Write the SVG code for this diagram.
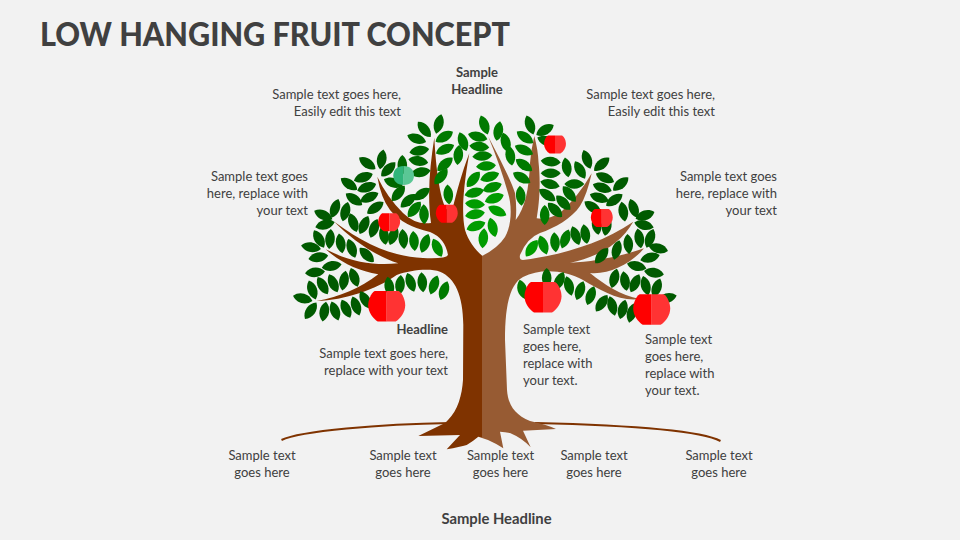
<svg xmlns="http://www.w3.org/2000/svg" width="960" height="540" viewBox="0 0 960 540">
<style>
text{font-family:"Lato","Liberation Sans",sans-serif;font-size:13px;fill:#404040}
.b{font-weight:700}
.r{text-anchor:end}
.m{text-anchor:middle}
.t{font-size:33px;font-weight:900}
.s{font-size:14.800px}
.a{fill:#005a00}.c{fill:#006600}.e{fill:#007a00}.g{fill:#008c00}.i{fill:#009c00}
.p{fill:#ff0000}.q{fill:#ff3333}
</style>
<defs>
<path id="l" d="M-10,0C-5,-6.400 5,-6.400 10,0C5,6.400 -5,6.400 -10,0Z"/>
<g id="ap"><path class="p" d="M0,-15.3H-12C-16,-13 -18.5,-6 -18.5,-1C-18.5,6 -14,12 -9,15.3H0Z"/><path class="q" d="M0,-15.3H12C16,-13 18.5,-6 18.5,-1C18.5,6 14,12 9,15.3H0Z"/></g>
</defs>
<rect width="960" height="540" fill="#f2f2f2"/>
<text class="t" x="40" y="46" textLength="470" lengthAdjust="spacingAndGlyphs">LOW HANGING FRUIT CONCEPT</text>
<g id="ground" fill="none" stroke="#7f3300" stroke-width="2">
<path d="M281.5,440C300,431 380,424 450,423"/>
<path d="M535,423C620,425 700,430 720.5,441"/>
</g>
<g id="trunk">
<path fill="#7f3300" d="M482.5,256C475,250 468,240 465,230C462,215 462,195 469.3,153.3C462,172 456,195 453,207Q450,210 446,209C440,197 436,170 434.3,137.7C430,165 427,195 431,223Q415,225 403,213Q387,197 377.3,176.7Q381,198 390,210Q403,226 430,232Q445,238 448,255Q446,259 423,258C395,257 365,245 334.3,221.7C350,238 375,256 398.3,263.3C375,266 350,262 325.7,249.3C340,262 358,271 378.3,274.3C360,288 340,297 316.7,301C345,300 375,290 396.7,275C410,270 430,268 440,271.7C455,278 463,295 463.3,325L463,380C462,395 458,410 448,420L445,423L418.3,436L460,435L446.7,449.3Q460,447 466.7,445Q472,442 478.3,436.7L482.5,438Z"/>
<path fill="#975b33" d="M482,256Q498,248 505,237C512,225 512,205 508,193C503,175 496,155 488.3,136.7C498,155 510,178 515,193Q517,208 515.7,220C525,208 529,190 530,163Q531,150 534.3,136Q538,150 538.5,162C541,185 539,205 536.7,218.3Q548,220 560,213Q578,197 591.7,173.3Q587,195 580,206C572,218 555,228 540,233Q527,238 520,255Q519,260 523,260C555,256 600,245 633.3,221.7C620,245 595,258 570,262.7C595,262 625,255 644,248.3C633,262 610,275 590,273C605,285 620,295 640,299C620,302 600,290 583,280C565,270 540,268 523,277C510,284 505,305 505,340L507,390C508,405 515,415 530,421Q545,424 556,429L523,430.7L530.7,447.3Q522,438 510,433Q505,432 500,431.7L503.3,448.3Q495,443 488,440L482,438Z"/>
</g>
<g id="leaves">
<use href="#l" class="c" transform="translate(438.7,124) rotate(-75)"/>
<use href="#l" class="c" transform="translate(424.3,129.3) rotate(50)"/>
<use href="#l" class="e" transform="translate(444.3,136.7) rotate(-30)"/>
<use href="#l" class="c" transform="translate(416.7,138.7) rotate(20)"/>
<use href="#l" class="c" transform="translate(419.3,150.7) rotate(-10)"/>
<use href="#l" class="e" transform="translate(445,149.3) rotate(-25)"/>
<use href="#l" class="c" transform="translate(418.3,161) rotate(10)"/>
<use href="#l" class="e" transform="translate(445,164.3) rotate(-40)"/>
<use href="#l" class="c" transform="translate(420.7,172.3) rotate(-10)"/>
<use href="#l" class="e" transform="translate(441,176.7) rotate(-50)"/>
<use href="#l" class="e" transform="translate(458.3,155) rotate(-85)"/>
<use href="#l" class="e" transform="translate(463,141.7) rotate(70)"/>
<use href="#l" class="c" transform="translate(421.7,194) rotate(-35)"/>
<use href="#l" class="c" transform="translate(408.3,200.7) rotate(-40)"/>
<use href="#l" class="e" transform="translate(414.3,209.3) rotate(-50)"/>
<use href="#l" class="e" transform="translate(424,214.3) rotate(88)"/>
<use href="#l" class="c" transform="translate(398.3,193.3) rotate(-50)"/>
<use href="#l" class="c" transform="translate(393.3,182.7) rotate(20)"/>
<use href="#l" class="c" transform="translate(402.3,165) rotate(-90)"/>
<use href="#l" class="a" transform="translate(388.3,169.3) rotate(-45)"/>
<use href="#l" class="a" transform="translate(381.7,159.3) rotate(-80)"/>
<use href="#l" class="a" transform="translate(367.3,163.3) rotate(35)"/>
<use href="#l" class="a" transform="translate(363.3,177.3) rotate(-20)"/>
<use href="#l" class="a" transform="translate(349,184) rotate(35)"/>
<use href="#l" class="a" transform="translate(366.7,187.3) rotate(-20)"/>
<use href="#l" class="a" transform="translate(354,199.3) rotate(35)"/>
<use href="#l" class="a" transform="translate(369.3,197.3) rotate(-25)"/>
<use href="#l" class="a" transform="translate(375.3,207.7) rotate(-35)"/>
<use href="#l" class="a" transform="translate(345.3,211.7) rotate(-75)"/>
<use href="#l" class="a" transform="translate(335,208.3) rotate(-70)"/>
<use href="#l" class="a" transform="translate(323.3,215) rotate(25)"/>
<use href="#l" class="a" transform="translate(325,224.7) rotate(-15)"/>
<use href="#l" class="a" transform="translate(353.3,222.7) rotate(70)"/>
<use href="#l" class="a" transform="translate(319,239) rotate(60)"/>
<use href="#l" class="a" transform="translate(330,239) rotate(-85)"/>
<use href="#l" class="a" transform="translate(340.7,243.3) rotate(80)"/>
<use href="#l" class="a" transform="translate(351.7,248.3) rotate(70)"/>
<use href="#l" class="a" transform="translate(366.7,255) rotate(45)"/>
<use href="#l" class="a" transform="translate(311,247.3) rotate(10)"/>
<use href="#l" class="a" transform="translate(318.3,257.3) rotate(-10)"/>
<use href="#l" class="a" transform="translate(331.7,266) rotate(-10)"/>
<use href="#l" class="a" transform="translate(315,272.3) rotate(-5)"/>
<use href="#l" class="a" transform="translate(312.3,290) rotate(70)"/>
<use href="#l" class="a" transform="translate(322.7,285.7) rotate(60)"/>
<use href="#l" class="a" transform="translate(333.3,283.3) rotate(65)"/>
<use href="#l" class="a" transform="translate(344,280.7) rotate(-80)"/>
<use href="#l" class="a" transform="translate(354.3,277.3) rotate(70)"/>
<use href="#l" class="a" transform="translate(302.7,298.3) rotate(15)"/>
<use href="#l" class="a" transform="translate(310.7,310.7) rotate(-55)"/>
<use href="#l" class="a" transform="translate(324.3,311.7) rotate(-80)"/>
<use href="#l" class="a" transform="translate(335,311) rotate(70)"/>
<use href="#l" class="a" transform="translate(346,308.7) rotate(65)"/>
<use href="#l" class="a" transform="translate(356,306) rotate(70)"/>
<use href="#l" class="a" transform="translate(365.3,300) rotate(60)"/>
<use href="#l" class="c" transform="translate(389.3,286.7) rotate(80)"/>
<use href="#l" class="c" transform="translate(400,285) rotate(-85)"/>
<use href="#l" class="c" transform="translate(410.7,282.3) rotate(70)"/>
<use href="#l" class="c" transform="translate(422.3,282.3) rotate(85)"/>
<use href="#l" class="e" transform="translate(434,285) rotate(-70)"/>
<use href="#l" class="e" transform="translate(444,290.7) rotate(-70)"/>
<use href="#l" class="a" transform="translate(364,225) rotate(-65)"/>
<use href="#l" class="a" transform="translate(374,228.3) rotate(-70)"/>
<use href="#l" class="c" transform="translate(384,235) rotate(80)"/>
<use href="#l" class="c" transform="translate(393.3,235.7) rotate(-70)"/>
<use href="#l" class="c" transform="translate(403.3,239) rotate(85)"/>
<use href="#l" class="e" transform="translate(414,241) rotate(85)"/>
<use href="#l" class="e" transform="translate(425,243.3) rotate(-70)"/>
<use href="#l" class="g" transform="translate(437.3,247.7) rotate(65)"/>
<use href="#l" class="e" transform="translate(448.3,194.5) rotate(85)"/>
<use href="#l" class="e" transform="translate(477.7,136.7) rotate(15)"/>
<use href="#l" class="e" transform="translate(479.3,146.7) rotate(5)"/>
<use href="#l" class="e" transform="translate(482.3,156) rotate(-5)"/>
<use href="#l" class="g" transform="translate(486,166) rotate(-5)"/>
<use href="#l" class="g" transform="translate(473.3,179.3) rotate(-50)"/>
<use href="#l" class="g" transform="translate(489.7,176.7) rotate(-20)"/>
<use href="#l" class="g" transform="translate(474.3,192.7) rotate(-15)"/>
<use href="#l" class="g" transform="translate(492.3,187.3) rotate(-20)"/>
<use href="#l" class="i" transform="translate(475,204) rotate(5)"/>
<use href="#l" class="i" transform="translate(494.3,198.3) rotate(-20)"/>
<use href="#l" class="i" transform="translate(475,214.3) rotate(-10)"/>
<use href="#l" class="i" transform="translate(497.3,211) rotate(25)"/>
<use href="#l" class="i" transform="translate(476,226) rotate(-20)"/>
<use href="#l" class="i" transform="translate(492.7,227.3) rotate(75)"/>
<use href="#l" class="i" transform="translate(483.3,238.3) rotate(-85)"/>
<use href="#l" class="e" transform="translate(484.3,125) rotate(70)"/>
<use href="#l" class="e" transform="translate(498.3,131) rotate(-80)"/>
<use href="#l" class="e" transform="translate(505.7,142.3) rotate(75)"/>
<use href="#l" class="e" transform="translate(510.3,155.7) rotate(80)"/>
<use href="#l" class="c" transform="translate(530,125) rotate(70)"/>
<use href="#l" class="c" transform="translate(545,130) rotate(-30)"/>
<use href="#l" class="e" transform="translate(525,137.3) rotate(35)"/>
<use href="#l" class="e" transform="translate(524,150) rotate(25)"/>
<use href="#l" class="e" transform="translate(524,165) rotate(35)"/>
<use href="#l" class="e" transform="translate(521.7,177.7) rotate(30)"/>
<use href="#l" class="e" transform="translate(520.7,195.7) rotate(85)"/>
<use href="#l" class="c" transform="translate(546.7,141) rotate(20)"/>
<use href="#l" class="c" transform="translate(550.7,161.7) rotate(5)"/>
<use href="#l" class="c" transform="translate(550.7,173.3) rotate(0)"/>
<use href="#l" class="c" transform="translate(550,184) rotate(15)"/>
<use href="#l" class="c" transform="translate(547.3,195) rotate(35)"/>
<use href="#l" class="c" transform="translate(563.3,202.7) rotate(45)"/>
<use href="#l" class="c" transform="translate(555,210) rotate(45)"/>
<use href="#l" class="e" transform="translate(544.7,215) rotate(90)"/>
<use href="#l" class="c" transform="translate(566.7,167.3) rotate(80)"/>
<use href="#l" class="c" transform="translate(580,170) rotate(60)"/>
<use href="#l" class="a" transform="translate(587,159.3) rotate(70)"/>
<use href="#l" class="a" transform="translate(601.7,164.3) rotate(-40)"/>
<use href="#l" class="c" transform="translate(574.3,184) rotate(0)"/>
<use href="#l" class="c" transform="translate(569.3,194) rotate(50)"/>
<use href="#l" class="a" transform="translate(605,177.7) rotate(25)"/>
<use href="#l" class="a" transform="translate(620.7,184) rotate(-40)"/>
<use href="#l" class="a" transform="translate(602.3,187.7) rotate(20)"/>
<use href="#l" class="a" transform="translate(599.3,197.7) rotate(20)"/>
<use href="#l" class="a" transform="translate(614.3,200) rotate(-35)"/>
<use href="#l" class="a" transform="translate(592.7,207.3) rotate(35)"/>
<use href="#l" class="a" transform="translate(623.3,211.7) rotate(80)"/>
<use href="#l" class="a" transform="translate(633.7,208.3) rotate(70)"/>
<use href="#l" class="a" transform="translate(645,215.3) rotate(-20)"/>
<use href="#l" class="a" transform="translate(644,225) rotate(15)"/>
<use href="#l" class="a" transform="translate(596.7,225) rotate(80)"/>
<use href="#l" class="a" transform="translate(606.7,226) rotate(-80)"/>
<use href="#l" class="i" transform="translate(531.7,248.3) rotate(-55)"/>
<use href="#l" class="g" transform="translate(543.3,245) rotate(70)"/>
<use href="#l" class="e" transform="translate(555,242.3) rotate(85)"/>
<use href="#l" class="e" transform="translate(565.3,239) rotate(-70)"/>
<use href="#l" class="c" transform="translate(575.7,235.7) rotate(70)"/>
<use href="#l" class="c" transform="translate(585.3,234) rotate(80)"/>
<use href="#l" class="a" transform="translate(639.3,238.3) rotate(80)"/>
<use href="#l" class="a" transform="translate(650,238.3) rotate(-70)"/>
<use href="#l" class="a" transform="translate(658.3,248.3) rotate(15)"/>
<use href="#l" class="a" transform="translate(628.3,244) rotate(85)"/>
<use href="#l" class="a" transform="translate(616.7,250) rotate(-75)"/>
<use href="#l" class="a" transform="translate(601.7,255.7) rotate(-50)"/>
<use href="#l" class="a" transform="translate(650,257.7) rotate(-15)"/>
<use href="#l" class="a" transform="translate(636.7,266) rotate(15)"/>
<use href="#l" class="a" transform="translate(654,272.7) rotate(10)"/>
<use href="#l" class="a" transform="translate(614.3,278.3) rotate(-75)"/>
<use href="#l" class="a" transform="translate(625,281) rotate(80)"/>
<use href="#l" class="a" transform="translate(635,283.3) rotate(-65)"/>
<use href="#l" class="a" transform="translate(645.7,285.7) rotate(75)"/>
<use href="#l" class="a" transform="translate(656.7,288) rotate(-70)"/>
<use href="#l" class="a" transform="translate(667,298) rotate(-15)"/>
<use href="#l" class="a" transform="translate(601.7,303.3) rotate(-55)"/>
<use href="#l" class="a" transform="translate(612.3,306) rotate(75)"/>
<use href="#l" class="a" transform="translate(622.7,309.3) rotate(-75)"/>
<use href="#l" class="a" transform="translate(631.7,313) rotate(-75)"/>
<use href="#l" class="c" transform="translate(569,286) rotate(75)"/>
<use href="#l" class="c" transform="translate(580,290.7) rotate(-70)"/>
<use href="#l" class="c" transform="translate(590.7,295.7) rotate(-70)"/>
<use href="#l" class="e" transform="translate(522.3,289.3) rotate(75)"/>
<use href="#l" class="c" transform="translate(546.7,278) rotate(90)"/>
<use href="#l" class="c" transform="translate(559.3,281) rotate(-65)"/>
</g>
<g id="apples">
<use href="#ap" transform="translate(386.7,306.3)"/>
<use href="#ap" transform="translate(543,297.3)"/>
<use href="#ap" transform="translate(651.7,309.5)"/>
<use href="#ap" transform="translate(389.2,222.3) scale(.59)"/>
<use href="#ap" transform="translate(446.8,213.8) scale(.59)"/>
<use href="#ap" transform="translate(555,144.5) scale(.59)"/>
<use href="#ap" transform="translate(601.8,218) scale(.59)"/>
<g id="green-apple"><path fill="#2fb57a" d="M403.7,166C397,166 393.3,170 393.3,175.5C393.3,181 397,185 403.7,185Z"/><path fill="#5ac795" d="M403.7,166C410.4,166 414,170 414,175.5C414,181 410.4,185 403.7,185Z"/></g>
</g>
<g id="text-top"><text class="b m" x="477" y="77">Sample</text><text class="b m" x="477" y="94">Headline</text></g>
<g id="text-tl"><text class="r" x="401" y="99">Sample text goes here,</text><text class="r" x="401" y="116">Easily edit this text</text></g>
<g id="text-tr"><text class="r" x="715" y="99">Sample text goes here,</text><text class="r" x="715" y="116">Easily edit this text</text></g>
<g id="text-ml"><text class="r" x="308" y="181">Sample text goes</text><text class="r" x="308" y="198">here, replace with</text><text class="r" x="308" y="215">your text</text></g>
<g id="text-mr"><text class="r" x="777" y="181">Sample text goes</text><text class="r" x="777" y="198">here, replace with</text><text class="r" x="777" y="215">your text</text></g>
<g id="text-hl"><text class="b r" x="448" y="334">Headline</text><text class="r" x="448" y="358">Sample text goes here,</text><text class="r" x="448" y="375">replace with your text</text></g>
<g id="text-a"><text x="523" y="334">Sample text</text><text x="523" y="351">goes here,</text><text x="523" y="368">replace with</text><text x="523" y="385">your text.</text></g>
<g id="text-b"><text x="645" y="344">Sample text</text><text x="645" y="361">goes here,</text><text x="645" y="378">replace with</text><text x="645" y="395">your text.</text></g>
<g id="text-bottom">
<text class="m" x="262" y="460">Sample text</text><text class="m" x="262" y="477">goes here</text>
<text class="m" x="403" y="460">Sample text</text><text class="m" x="403" y="477">goes here</text>
<text class="m" x="500.500" y="460">Sample text</text><text class="m" x="500.500" y="477">goes here</text>
<text class="m" x="594" y="460">Sample text</text><text class="m" x="594" y="477">goes here</text>
<text class="m" x="719" y="460">Sample text</text><text class="m" x="719" y="477">goes here</text>
</g>
<text class="b m s" x="496.500" y="524">Sample Headline</text>
</svg>
